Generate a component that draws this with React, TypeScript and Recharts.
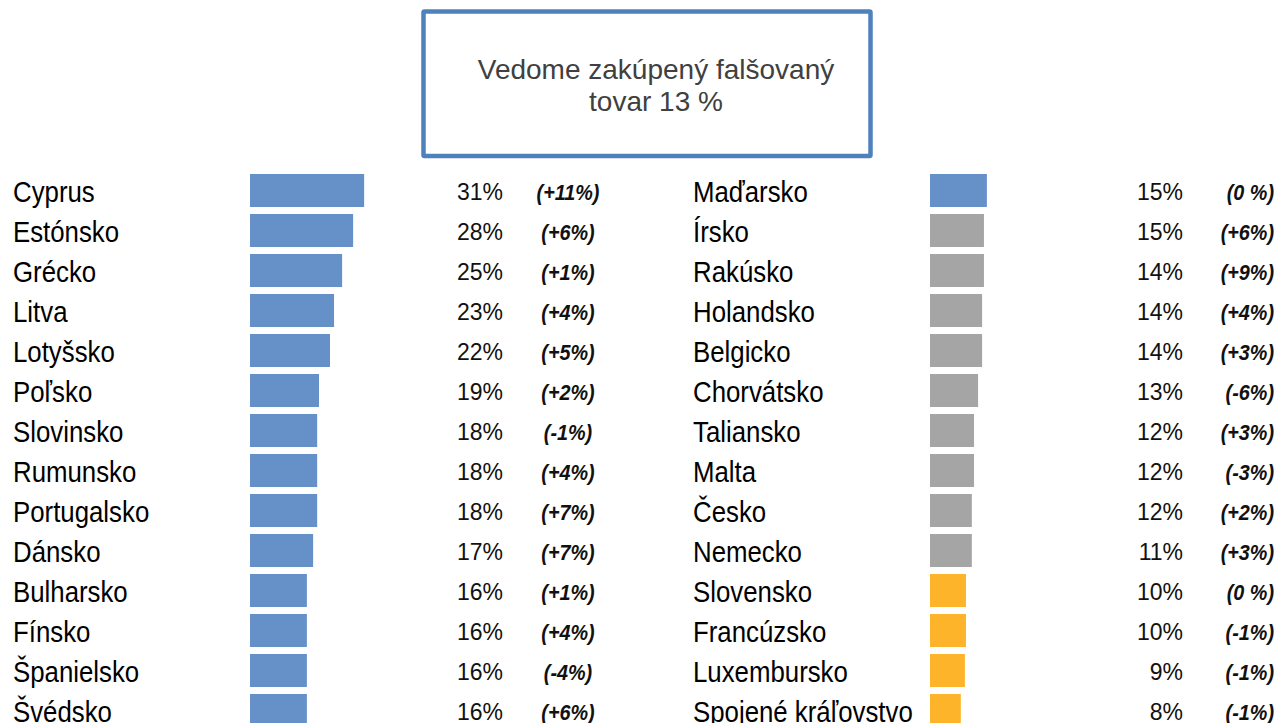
import React from 'react';
import { BarChart, Bar, XAxis, YAxis, Cell, LabelList } from 'recharts';

const leftCountries = ['Cyprus', 'Estónsko', 'Grécko', 'Litva', 'Lotyšsko', 'Poľsko', 'Slovinsko', 'Rumunsko', 'Portugalsko', 'Dánsko', 'Bulharsko', 'Fínsko', 'Španielsko', 'Švédsko'];
const leftValues = [31.1, 28.1, 25.1, 22.9, 21.8, 18.8, 18.3, 18.3, 18.3, 17.2, 15.5, 15.5, 15.5, 15.5];
const leftPct = ['31%', '28%', '25%', '23%', '22%', '19%', '18%', '18%', '18%', '17%', '16%', '16%', '16%', '16%'];
const leftChange = ['(+11%)', '(+6%)', '(+1%)', '(+4%)', '(+5%)', '(+2%)', '(-1%)', '(+4%)', '(+7%)', '(+7%)', '(+1%)', '(+4%)', '(-4%)', '(+6%)'];
const leftGroups = ['above', 'above', 'above', 'above', 'above', 'above', 'above', 'above', 'above', 'above', 'above', 'above', 'above', 'above'];

const rightCountries = ['Maďarsko', 'Írsko', 'Rakúsko', 'Holandsko', 'Belgicko', 'Chorvátsko', 'Taliansko', 'Malta', 'Česko', 'Nemecko', 'Slovensko', 'Francúzsko', 'Luxembursko', 'Spojené kráľovstvo'];
const rightValues = [15.5, 14.7, 14.7, 14.2, 14.2, 13.1, 12.0, 12.0, 11.4, 11.4, 9.8, 9.8, 9.5, 8.4];
const rightPct = ['15%', '15%', '14%', '14%', '14%', '13%', '12%', '12%', '12%', '11%', '10%', '10%', '9%', '8%'];
const rightChange = ['(0 %)', '(+6%)', '(+9%)', '(+4%)', '(+3%)', '(-6%)', '(+3%)', '(-3%)', '(+2%)', '(+3%)', '(0 %)', '(-1%)', '(-1%)', '(-1%)'];
const rightGroups = ['above', 'avg', 'avg', 'avg', 'avg', 'avg', 'avg', 'avg', 'avg', 'avg', 'below', 'below', 'below', 'below'];

const titleLines = ['Vedome zakúpený falšovaný', 'tovar 13 %'];

const groupColors: Record<string, string> = {
  above: '#6590C8',
  avg: '#A5A5A5',
  below: '#FDB42B',
};

const FONT = '"Liberation Sans", Arial, sans-serif';
const AXIS_W = 237;

function build(countries: string[], values: number[], pct: string[], chg: string[], groups: string[]) {
  return countries.map((c, i) => ({ country: c, value: values[i], pct: pct[i], chg: chg[i], group: groups[i] }));
}

const leftData = build(leftCountries, leftValues, leftPct, leftChange, leftGroups);
const rightData = build(rightCountries, rightValues, rightPct, rightChange, rightGroups);

const CountryTick = (props: any) => {
  const { x, y, payload } = props;
  return (
    <g transform={`translate(${x - AXIS_W},${y + 11.5}) scale(0.875,1)`}>
      <text x={0} y={0} fontSize={29.5} fontFamily={FONT} fill="#000" textAnchor="start">
        {payload.value}
      </text>
    </g>
  );
};

const makePctLabel = () => (props: any) => {
  const { x, y, height, value } = props;
  return (
    <text x={x + 253} y={y + height / 2 + 9.5} fontSize={23} fontFamily={FONT} fill="#111" textAnchor="end">
      {value}
    </text>
  );
};

const makeChgLabel = (offset: number, anchor: string) => (props: any) => {
  const { x, y, height, value } = props;
  return (
    <g transform={`translate(${x + offset},${y + height / 2 + 9.5}) scale(0.88,1)`}>
      <text
        x={0}
        y={0}
        fontSize={22.5}
        fontFamily={FONT}
        fontWeight="bold"
        fontStyle="italic"
        fill="#111"
        textAnchor={anchor}
      >
        {value}
      </text>
    </g>
  );
};

function Column({ data, width, left, chgOffset, chgAnchor }: any) {
  const plotW = 183.5;
  const right = width - left - AXIS_W - plotW;
  return (
    <BarChart
      width={width}
      height={740}
      data={data}
      layout="vertical"
      margin={{ top: 170, right, bottom: 10, left }}
      barCategoryGap={0}
    >
      <XAxis type="number" domain={[0, 50]} hide />
      <YAxis
        type="category"
        dataKey="country"
        width={AXIS_W}
        tickLine={false}
        axisLine={false}
        tickSize={0}
        tickMargin={0}
        interval={0}
        tick={<CountryTick />}
      />
      <Bar dataKey="value" barSize={33} isAnimationActive={false}>
        {data.map((d: any, i: number) => (
          <Cell key={i} fill={groupColors[d.group]} />
        ))}
        <LabelList dataKey="pct" content={makePctLabel()} />
        <LabelList dataKey="chg" content={makeChgLabel(chgOffset, chgAnchor)} />
      </Bar>
    </BarChart>
  );
}

export default function App() {
  return (
    <div
      style={{
        position: 'absolute',
        left: 0,
        top: 0,
        width: 1276,
        height: 723,
        overflow: 'hidden',
        background: '#fff',
      }}
    >
      <div style={{ position: 'absolute', left: 0, top: 0 }}>
        <Column data={leftData} width={640} left={13} chgOffset={318} chgAnchor="middle" />
      </div>
      <div style={{ position: 'absolute', left: 640, top: 0 }}>
        <Column data={rightData} width={636} left={53} chgOffset={344} chgAnchor="end" />
      </div>
      <svg width={1276} height={170} style={{ position: 'absolute', left: 0, top: 0 }}>
        <rect x={423.5} y={11.5} width={447} height={144.5} fill="#fff" stroke="#4F81BD" strokeWidth={4.5} rx={1} />
        {titleLines.map((t, i) => (
          <text key={i} x={656} y={79 + i * 32} fontSize={28} fontFamily={FONT} fill="#404040" textAnchor="middle">
            {t}
          </text>
        ))}
      </svg>
    </div>
  );
}
